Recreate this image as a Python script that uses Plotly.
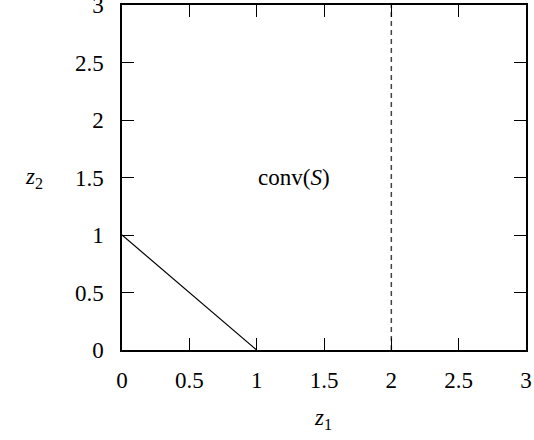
import plotly.graph_objects as go

# Data
boundary_x = [0, 1]
boundary_y = [1, 0]
dashed_x = [2, 2]
dashed_y = [0, 3]
tick_vals = [0, 0.5, 1, 1.5, 2, 2.5, 3]
tick_text = ["0", "0.5", "1", "1.5", "2", "2.5", "3"]
region_label = "conv(<i>S</i>)"
region_pos = (1.28, 1.5)

FONT = "Liberation Serif"

fig = go.Figure()
fig.add_trace(go.Scatter(x=boundary_x, y=boundary_y, mode="lines",
                         line=dict(color="black", width=1.2), showlegend=False))
fig.add_trace(go.Scatter(x=dashed_x, y=dashed_y, mode="lines",
                         line=dict(color="#444444", width=1.5, dash="5px,4px"),
                         showlegend=False))

fig.add_annotation(x=region_pos[0], y=region_pos[1], text=region_label,
                   showarrow=False, font=dict(size=23, color="black", family=FONT))
fig.add_annotation(xref="paper", yref="paper", x=-0.245, y=0.5,
                   text="<i>z</i><sub>2</sub>", showarrow=False,
                   font=dict(size=23, color="black", family=FONT))
fig.add_annotation(xref="paper", yref="paper", x=0.4975, y=-0.245,
                   text="<i>z</i><sub>1</sub>", showarrow=False,
                   font=dict(size=23, color="black", family=FONT))

axis_common = dict(range=[0, 3], tickvals=tick_vals, ticktext=tick_text,
                   showgrid=False, zeroline=False, showline=True,
                   linecolor="black", linewidth=1.5, mirror="ticks",
                   ticks="inside", ticklen=12, tickwidth=1.2, tickcolor="black",
                   automargin=False, ticklabeloverflow="allow",
                   tickfont=dict(size=23, color="black", family=FONT))

fig.update_xaxes(**axis_common, ticklabelstandoff=9)
fig.update_yaxes(**axis_common, ticklabelstandoff=12)

fig.update_layout(width=534, height=440,
                  margin=dict(l=122, r=8, t=5, b=90),
                  plot_bgcolor="white", paper_bgcolor="white",
                  font=dict(family=FONT, color="black", size=23))

fig.write_html("out.html", config={"displayModeBar": False},
               post_script="document.body.style.margin='0';document.body.style.overflow='hidden';")
